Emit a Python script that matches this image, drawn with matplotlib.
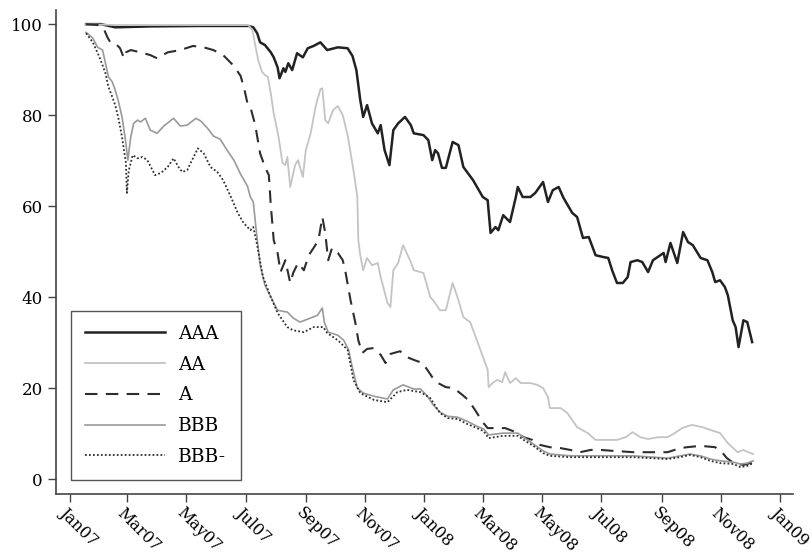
import matplotlib
matplotlib.use("Agg")
import matplotlib.pyplot as plt
import matplotlib.transforms as mtransforms
import pandas as pd

plt.rcParams.update({"font.family": "DejaVu Serif", "font.size": 12})

# ---- data (index price, par = 100) ----
aaa_dates = ["2007-01-18", "2007-02-02", "2007-02-17", "2007-03-25", "2007-05-16", "2007-07-04",
             "2007-07-09", "2007-07-13", "2007-07-16", "2007-07-21", "2007-07-27", "2007-07-30",
             "2007-08-03", "2007-08-05", "2007-08-09", "2007-08-11", "2007-08-14", "2007-08-18",
             "2007-08-23", "2007-08-29", "2007-09-03", "2007-09-09", "2007-09-16", "2007-09-23",
             "2007-10-04", "2007-10-14", "2007-10-19", "2007-10-23", "2007-10-27", "2007-10-30",
             "2007-11-03", "2007-11-08", "2007-11-14", "2007-11-17", "2007-11-21", "2007-11-26",
             "2007-11-30", "2007-12-05", "2007-12-12", "2007-12-18", "2007-12-21", "2007-12-31",
             "2008-01-05", "2008-01-09", "2008-01-12", "2008-01-15", "2008-01-19", "2008-01-23",
             "2008-01-30", "2008-02-05", "2008-02-10", "2008-02-20", "2008-03-01", "2008-03-06",
             "2008-03-09", "2008-03-14", "2008-03-17", "2008-03-22", "2008-03-29", "2008-04-04",
             "2008-04-06", "2008-04-11", "2008-04-19", "2008-04-24", "2008-05-02", "2008-05-07",
             "2008-05-12", "2008-05-18", "2008-05-23", "2008-06-01", "2008-06-06", "2008-06-12",
             "2008-06-18", "2008-06-25", "2008-07-03", "2008-07-08", "2008-07-12", "2008-07-17",
             "2008-07-23", "2008-07-28", "2008-07-31", "2008-08-07", "2008-08-12", "2008-08-18",
             "2008-08-23", "2008-09-03", "2008-09-05", "2008-09-10", "2008-09-17", "2008-09-23",
             "2008-09-28", "2008-10-03", "2008-10-11", "2008-10-18", "2008-10-23", "2008-10-26",
             "2008-10-31", "2008-11-05", "2008-11-08", "2008-11-13", "2008-11-16", "2008-11-19",
             "2008-11-24", "2008-11-28", "2008-12-03"]
aaa_vals = [100.0, 100.0, 99.3, 99.5, 99.6, 99.6,
            99.3, 98.0, 96.0, 95.4, 93.8, 92.7,
            90.5, 88.1, 90.3, 89.5, 91.4, 89.9,
            93.6, 92.7, 94.7, 95.2, 96.0, 94.3,
            94.9, 94.7, 93.0, 89.9, 83.3, 79.6,
            82.2, 78.2, 76.0, 77.8, 72.3, 69.0,
            76.7, 78.2, 79.6, 77.8, 76.0, 75.6,
            74.5, 70.1, 72.3, 71.6, 68.4, 68.4,
            74.1, 73.4, 68.6, 65.7, 62.0, 61.3,
            54.1, 55.4, 54.7, 58.0, 56.5, 62.0,
            64.2, 62.0, 62.0, 62.9, 65.3, 60.9,
            63.5, 64.2, 61.8, 58.5, 57.6, 53.0,
            53.2, 49.2, 48.8, 48.6, 45.9, 43.1,
            43.1, 44.4, 47.7, 48.1, 47.7, 45.5,
            48.1, 49.7, 47.7, 51.9, 47.5, 54.3,
            52.1, 51.4, 48.6, 48.1, 45.5, 43.3,
            43.7, 42.2, 40.4, 34.9, 33.4, 29.0,
            34.9, 34.5, 30.1]

aa_dates = ["2007-01-18", "2007-02-17", "2007-05-16", "2007-07-04", "2007-07-08", "2007-07-11",
            "2007-07-14", "2007-07-18", "2007-07-21", "2007-07-24", "2007-07-27", "2007-07-30",
            "2007-08-04", "2007-08-08", "2007-08-11", "2007-08-13", "2007-08-16", "2007-08-21",
            "2007-08-24", "2007-08-29", "2007-09-01", "2007-09-06", "2007-09-11", "2007-09-16",
            "2007-09-18", "2007-09-21", "2007-09-24", "2007-09-29", "2007-10-04", "2007-10-09",
            "2007-10-14", "2007-10-20", "2007-10-24", "2007-10-25", "2007-10-27", "2007-10-30",
            "2007-11-03", "2007-11-08", "2007-11-14", "2007-11-17", "2007-11-24", "2007-11-27",
            "2007-11-30", "2007-12-05", "2007-12-10", "2007-12-18", "2007-12-21", "2007-12-31",
            "2008-01-07", "2008-01-10", "2008-01-17", "2008-01-23", "2008-01-30", "2008-02-05",
            "2008-02-10", "2008-02-17", "2008-02-24", "2008-03-06", "2008-03-07", "2008-03-11",
            "2008-03-16", "2008-03-21", "2008-03-24", "2008-03-29", "2008-04-04", "2008-04-09",
            "2008-04-19", "2008-04-26", "2008-05-02", "2008-05-07", "2008-05-09", "2008-05-20",
            "2008-05-27", "2008-06-06", "2008-06-17", "2008-06-25", "2008-07-03", "2008-07-17",
            "2008-07-26", "2008-08-02", "2008-08-10", "2008-08-18", "2008-08-28", "2008-09-07",
            "2008-09-13", "2008-09-22", "2008-10-02", "2008-10-13", "2008-10-21", "2008-10-31",
            "2008-11-08", "2008-11-18", "2008-11-24", "2008-11-29", "2008-12-04"]
aa_vals = [100.0, 99.8, 99.8, 99.8, 98.7, 95.4,
           92.1, 89.5, 88.8, 88.4, 84.8, 80.4,
           75.2, 69.5, 69.0, 70.8, 64.2, 69.0,
           70.1, 66.4, 72.3, 76.0, 81.8, 85.7,
           85.9, 78.9, 78.2, 81.1, 82.0, 80.0,
           75.6, 67.9, 62.0, 52.5, 49.2, 45.9,
           48.6, 47.0, 47.5, 44.4, 38.7, 37.8,
           45.9, 47.5, 51.4, 47.7, 45.9, 45.3,
           40.0, 39.3, 37.1, 37.1, 43.1, 39.3,
           35.6, 34.5, 30.5, 24.0, 20.2, 21.1,
           21.8, 21.3, 23.5, 21.1, 22.2, 21.1,
           21.1, 20.7, 20.0, 18.0, 15.6, 15.6,
           14.5, 11.4, 10.1, 8.6, 8.6, 8.6,
           9.2, 10.3, 9.2, 8.8, 9.2, 9.2,
           9.9, 11.2, 11.9, 11.4, 10.8, 10.1,
           7.9, 5.9, 6.4, 5.9, 5.5]

a_dates = ["2007-01-18", "2007-01-30", "2007-02-05", "2007-02-09", "2007-02-12", "2007-02-17",
           "2007-02-22", "2007-02-26", "2007-02-28", "2007-03-05", "2007-03-15", "2007-03-25",
           "2007-04-01", "2007-04-12", "2007-04-25", "2007-05-08", "2007-05-19", "2007-05-29",
           "2007-06-08", "2007-06-19", "2007-06-26", "2007-06-30", "2007-07-03", "2007-07-06",
           "2007-07-11", "2007-07-16", "2007-07-21", "2007-07-25", "2007-07-27", "2007-07-30",
           "2007-08-03", "2007-08-06", "2007-08-11", "2007-08-16", "2007-08-19", "2007-08-24",
           "2007-08-30", "2007-09-04", "2007-09-09", "2007-09-14", "2007-09-18", "2007-09-21",
           "2007-09-24", "2007-09-28", "2007-10-04", "2007-10-09", "2007-10-12", "2007-10-17",
           "2007-10-22", "2007-10-25", "2007-10-29", "2007-11-03", "2007-11-10", "2007-11-17",
           "2007-11-22", "2007-11-27", "2007-12-07", "2007-12-14", "2007-12-21", "2007-12-30",
           "2008-01-04", "2008-01-09", "2008-01-15", "2008-01-23", "2008-01-31", "2008-02-09",
           "2008-02-15", "2008-02-22", "2008-03-01", "2008-03-06", "2008-03-14", "2008-03-24",
           "2008-04-04", "2008-04-12", "2008-04-21", "2008-04-29", "2008-05-09", "2008-05-20",
           "2008-05-30", "2008-06-09", "2008-06-20", "2008-06-30", "2008-07-13", "2008-08-03",
           "2008-09-07", "2008-09-20", "2008-09-27", "2008-10-11", "2008-10-26", "2008-11-02",
           "2008-11-07", "2008-11-14", "2008-11-24", "2008-12-04"]
a_vals = [100.0, 99.8, 99.1, 97.1, 96.0, 95.8,
          94.7, 92.5, 93.8, 94.3, 93.8, 93.2,
          92.5, 93.8, 94.3, 95.2, 94.9, 94.3,
          93.2, 90.8, 88.6, 85.5, 82.6, 81.8,
          77.8, 71.6, 68.6, 66.8, 60.2, 52.5,
          49.7, 45.5, 48.1, 43.1, 45.3, 47.5,
          45.9, 49.2, 50.8, 52.5, 57.6, 54.1,
          48.1, 50.8, 49.7, 48.1, 45.3, 39.3,
          34.3, 30.5, 27.7, 28.6, 28.8, 27.3,
          25.5, 27.5, 28.1, 26.8, 26.2, 25.5,
          24.0, 22.4, 21.1, 20.2, 20.0, 18.5,
          17.4, 15.2, 12.5, 11.2, 11.2, 11.2,
          10.3, 9.2, 8.6, 7.5, 7.0, 6.8,
          6.4, 5.9, 6.4, 6.4, 6.2, 5.9,
          5.9, 6.8, 7.0, 7.3, 7.0, 5.9,
          4.6, 3.5, 3.1, 3.7]

bbb_dates = ["2007-01-18", "2007-01-25", "2007-01-30", "2007-02-04", "2007-02-07", "2007-02-10",
             "2007-02-14", "2007-02-17", "2007-02-20", "2007-02-24", "2007-02-28", "2007-03-02",
             "2007-03-05", "2007-03-08", "2007-03-12", "2007-03-15", "2007-03-20", "2007-03-25",
             "2007-04-01", "2007-04-08", "2007-04-18", "2007-04-25", "2007-05-02", "2007-05-11",
             "2007-05-16", "2007-05-23", "2007-05-29", "2007-06-05", "2007-06-12", "2007-06-19",
             "2007-06-26", "2007-07-03", "2007-07-06", "2007-07-09", "2007-07-12", "2007-07-16",
             "2007-07-21", "2007-07-27", "2007-08-03", "2007-08-13", "2007-08-19", "2007-08-26",
             "2007-09-06", "2007-09-13", "2007-09-18", "2007-09-20", "2007-09-24", "2007-10-04",
             "2007-10-10", "2007-10-15", "2007-10-19", "2007-10-24", "2007-10-30", "2007-11-10",
             "2007-11-24", "2007-11-30", "2007-12-10", "2007-12-21", "2007-12-28", "2008-01-04",
             "2008-01-10", "2008-01-17", "2008-01-25", "2008-02-04", "2008-02-14", "2008-02-24",
             "2008-03-02", "2008-03-07", "2008-03-22", "2008-04-06", "2008-04-12", "2008-04-22",
             "2008-05-02", "2008-05-09", "2008-05-30", "2008-06-30", "2008-08-03", "2008-09-07",
             "2008-09-20", "2008-09-30", "2008-10-11", "2008-10-21", "2008-10-31", "2008-11-14",
             "2008-11-21", "2008-11-28", "2008-12-04"]
bbb_vals = [98.2, 96.9, 94.9, 94.3, 91.4, 88.4,
            87.3, 85.5, 83.3, 79.6, 73.8, 70.1,
            75.2, 78.2, 78.9, 78.5, 79.3, 76.7,
            76.0, 77.6, 79.3, 77.6, 77.8, 79.3,
            78.7, 77.1, 75.4, 74.7, 72.3, 70.1,
            67.0, 64.4, 62.0, 60.9, 54.7, 47.0,
            42.6, 40.0, 37.1, 36.7, 35.4, 34.5,
            35.4, 36.0, 37.6, 34.5, 32.3, 31.6,
            30.5, 28.4, 24.4, 20.0, 18.9, 18.2,
            17.6, 19.6, 20.7, 19.8, 19.8, 18.2,
            16.3, 14.7, 13.8, 13.6, 12.7, 11.6,
            11.0, 9.7, 10.1, 10.1, 9.2, 7.7,
            6.2, 5.5, 5.1, 5.1, 5.1, 4.6,
            5.1, 5.5, 5.1, 4.4, 4.0, 3.7,
            3.3, 3.5, 4.0]

bbbm_dates = ["2007-01-18", "2007-01-25", "2007-01-30", "2007-02-02", "2007-02-07", "2007-02-10",
              "2007-02-14", "2007-02-17", "2007-02-20", "2007-02-24", "2007-02-28", "2007-03-01",
              "2007-03-03", "2007-03-07", "2007-03-12", "2007-03-17", "2007-03-22", "2007-03-30",
              "2007-04-05", "2007-04-12", "2007-04-18", "2007-04-23", "2007-04-27", "2007-05-02",
              "2007-05-07", "2007-05-13", "2007-05-19", "2007-05-26", "2007-06-02", "2007-06-08",
              "2007-06-16", "2007-06-23", "2007-06-29", "2007-07-06", "2007-07-09", "2007-07-13",
              "2007-07-19", "2007-07-27", "2007-08-03", "2007-08-13", "2007-08-19", "2007-08-30",
              "2007-09-09", "2007-09-19", "2007-09-23", "2007-10-04", "2007-10-14", "2007-10-20",
              "2007-10-27", "2007-11-10", "2007-11-24", "2007-12-04", "2007-12-14", "2007-12-28",
              "2008-01-07", "2008-01-17", "2008-01-25", "2008-02-04", "2008-02-14", "2008-02-24",
              "2008-03-02", "2008-03-07", "2008-03-22", "2008-04-06", "2008-04-12", "2008-04-22",
              "2008-05-02", "2008-05-09", "2008-05-30", "2008-06-30", "2008-08-03", "2008-09-07",
              "2008-09-20", "2008-09-30", "2008-10-11", "2008-10-21", "2008-10-31", "2008-11-14",
              "2008-11-21", "2008-11-28", "2008-12-04"]
bbbm_vals = [98.0, 96.0, 93.6, 92.1, 89.2, 86.2,
             84.0, 82.2, 79.6, 75.2, 69.5, 62.9,
             67.9, 71.2, 70.5, 70.8, 70.1, 66.8,
             67.3, 68.6, 70.5, 68.6, 67.5, 67.9,
             70.1, 72.7, 71.6, 68.6, 67.5, 65.7,
             62.0, 58.5, 56.3, 54.7, 55.4, 51.4,
             44.4, 40.0, 36.5, 33.4, 32.7, 32.3,
             33.4, 33.4, 32.1, 30.5, 28.4, 21.8,
             18.9, 17.4, 16.9, 19.1, 19.6, 19.1,
             17.8, 14.5, 13.4, 13.2, 12.1, 11.2,
             10.5, 9.0, 9.5, 9.5, 8.6, 7.3,
             5.7, 5.1, 4.8, 4.8, 4.8, 4.4,
             4.8, 5.3, 4.8, 4.0, 3.5, 3.3,
             2.6, 2.9, 3.5]

tick_dates = pd.date_range("2007-01-01", "2009-01-01", freq="2MS")
tick_labels = [d.strftime("%b%y") for d in tick_dates]

fig = plt.figure(figsize=(8.1, 5.57), dpi=100)
ax = fig.add_axes([0.069, 0.113, 0.910, 0.869])

ax.plot(pd.to_datetime(aaa_dates), aaa_vals, color="#222222", lw=1.8, label="AAA")
ax.plot(pd.to_datetime(aa_dates), aa_vals, color="#c4c4c4", lw=1.3, label="AA")
ax.plot(pd.to_datetime(a_dates), a_vals, color="#2e2e2e", lw=1.5, dashes=(6, 4), label="A")
ax.plot(pd.to_datetime(bbb_dates), bbb_vals, color="#9a9a9a", lw=1.2, label="BBB")
ax.plot(pd.to_datetime(bbbm_dates), bbbm_vals, color="#2e2e2e", lw=1.3, ls=(0, (1, 1.2)),
        label="BBB-")

ax.set_xlim(pd.Timestamp("2006-12-18"), pd.Timestamp("2009-01-14"))
ax.set_ylim(-3.3, 103.1)
ax.set_yticks([0, 20, 40, 60, 80, 100])
ax.set_xticks(tick_dates)
ax.set_xticklabels(tick_labels)

for s in ["top", "right"]:
    ax.spines[s].set_visible(False)
for s in ["left", "bottom"]:
    ax.spines[s].set_color("#444444")
    ax.spines[s].set_linewidth(1.2)
ax.tick_params(direction="out", length=5.5, width=1, color="#444444", labelsize=11.5)
ax.tick_params(axis="y", pad=4, labelsize=12)

shift = mtransforms.ScaledTranslation(-1 / 72, 1.5 / 72, fig.dpi_scale_trans)
for lab in ax.get_xticklabels():
    lab.set_rotation(-45)
    lab.set_ha("left")
    lab.set_va("top")
    lab.set_rotation_mode("anchor")
    lab.set_transform(lab.get_transform() + shift)

leg = ax.legend(loc="lower left", bbox_to_anchor=(0.02, 0.029), borderaxespad=0,
                fontsize=13.5, handlelength=4.3, handletextpad=0.7, labelspacing=0.68,
                borderpad=0.75, fancybox=False, framealpha=1)
leg.get_frame().set_edgecolor("#555555")
leg.get_frame().set_linewidth(1.0)

fig.savefig("out.png", dpi=100)
